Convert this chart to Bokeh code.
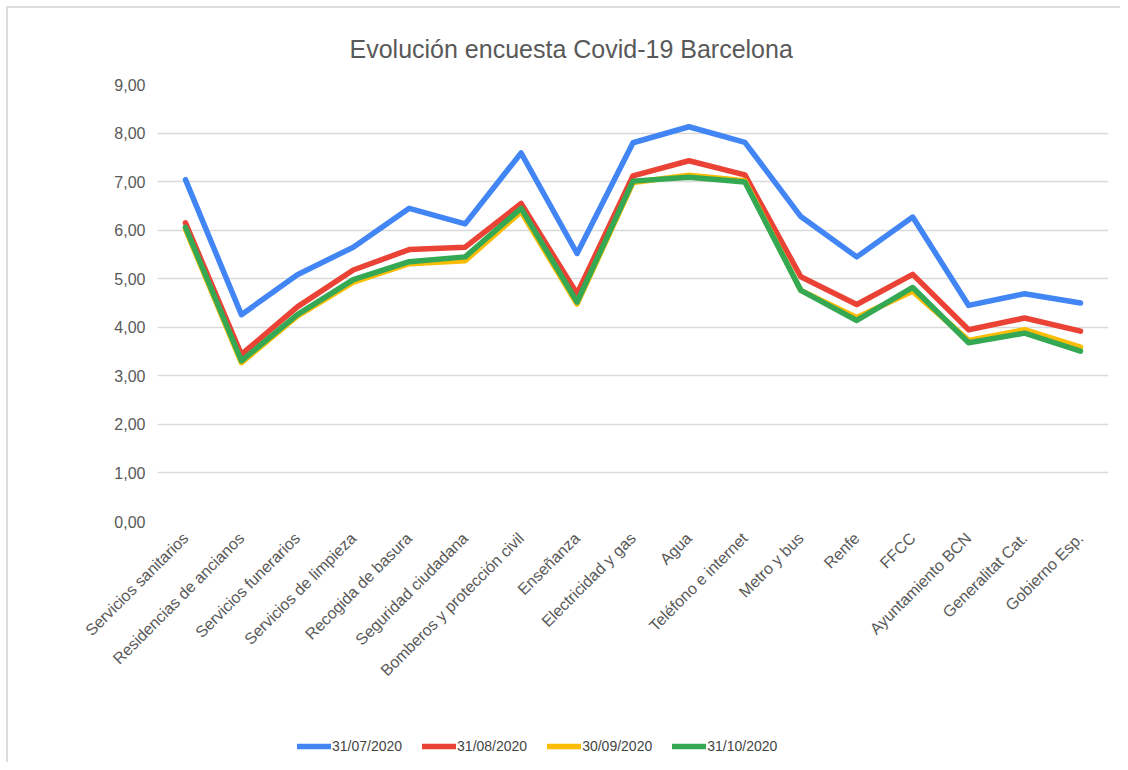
import math
from bokeh.plotting import figure
from bokeh.layouts import column
from bokeh.models import Legend, LegendItem, FixedTicker
from bokeh.embed import file_html
from bokeh.resources import INLINE

categories = [
    "Servicios sanitarios", "Residencias de ancianos", "Servicios funerarios",
    "Servicios de limpieza", "Recogida de basura", "Seguridad ciudadana",
    "Bomberos y protección civil", "Enseñanza", "Electricidad y gas", "Agua",
    "Teléfono e internet", "Metro y bus", "Renfe", "FFCC", "Ayuntamiento BCN",
    "Generalitat Cat.", "Gobierno Esp.",
]
fechas = ["31/07/2020", "31/08/2020", "30/09/2020", "31/10/2020"]

s_jul = [7.04, 4.26, 5.08, 5.65, 6.45, 6.13, 7.59, 5.52, 7.80, 8.13, 7.81, 6.28, 5.45, 6.27, 4.45, 4.69, 4.50]
s_ago = [6.15, 3.44, 4.42, 5.18, 5.60, 5.65, 6.55, 4.69, 7.12, 7.43, 7.14, 5.04, 4.47, 5.09, 3.95, 4.19, 3.92]
s_sep = [6.02, 3.27, 4.23, 4.93, 5.31, 5.37, 6.38, 4.48, 6.98, 7.13, 7.02, 4.76, 4.20, 4.74, 3.73, 3.95, 3.59]
s_oct = [6.06, 3.31, 4.26, 4.98, 5.35, 5.45, 6.45, 4.52, 7.01, 7.09, 6.99, 4.76, 4.14, 4.82, 3.68, 3.88, 3.51]

series = [s_jul, s_ago, s_sep, s_oct]
colors = ["#4285F4", "#EA4335", "#FBBC04", "#34A853"]
yticks = list(range(10))

FONT = "Liberation Sans"
W = 1112

p = figure(x_range=categories, y_range=(0, 9), width=W, height=717,
           output_backend="svg", toolbar_location=None,
           min_border_left=149, min_border_right=12, min_border_top=76,
           min_border_bottom=204, background_fill_color="white",
           border_fill_color="white")
p.outline_line_color = None

p.title.text = "Evolución encuesta Covid-19 Barcelona"
p.title.align = "left"
p.title.offset = 192
p.title.standoff = 43
p.title.text_font = FONT
p.title.text_font_size = "25px"
p.title.text_font_style = "normal"
p.title.text_color = "#595959"

for vals, c in zip(series, colors):
    p.line(categories, vals, line_color=c, line_width=5.5,
           line_join="round", line_cap="round")

p.xgrid.visible = False
p.ygrid.grid_line_color = "#d9d9d9"
p.ygrid.grid_line_width = 1.5

p.yaxis.ticker = FixedTicker(ticks=yticks)
p.yaxis.major_label_overrides = {t: f"{t},00" for t in yticks}
for ax in (p.xaxis[0], p.yaxis[0]):
    ax.axis_line_color = None
    ax.major_tick_line_color = None
    ax.minor_tick_line_color = None
    ax.major_label_text_font = FONT
    ax.major_label_text_font_size = "16px"
    ax.major_label_text_color = "#595959"
p.yaxis.major_label_standoff = 6
p.xaxis.major_label_orientation = math.pi / 4
p.xaxis.major_label_standoff = 8

# Legend strip below the chart (its lines lie outside its own y range)
pl = figure(x_range=categories, y_range=(100, 101), width=W, height=37,
            output_backend="svg", toolbar_location=None,
            min_border=0, background_fill_color="white",
            border_fill_color="white")
pl.outline_line_color = None
pl.axis.visible = False
pl.grid.visible = False
leg_renderers = []
for vals, c in zip(series, colors):
    r = pl.line(categories, vals, line_color=c, line_width=5.5, line_cap="round")
    leg_renderers.append(r)

legend = Legend(
    items=[LegendItem(label=f, renderers=[r]) for f, r in zip(fechas, leg_renderers)],
    orientation="horizontal", location=(140, 8),
    glyph_width=34, glyph_height=16, label_standoff=1, spacing=20,
    padding=0, margin=0, border_line_color=None, background_fill_alpha=0,
    label_text_font=FONT, label_text_font_size="14px", label_text_color="#444444",
)
pl.add_layout(legend)

layout = column(p, pl, spacing=0)
layout.styles = {
    "margin-left": "6px", "margin-top": "6px",
    "border-left": "2px solid #dcdcdc", "border-top": "2px solid #dcdcdc",
}
open("out.html", "w").write(file_html(layout, INLINE))
